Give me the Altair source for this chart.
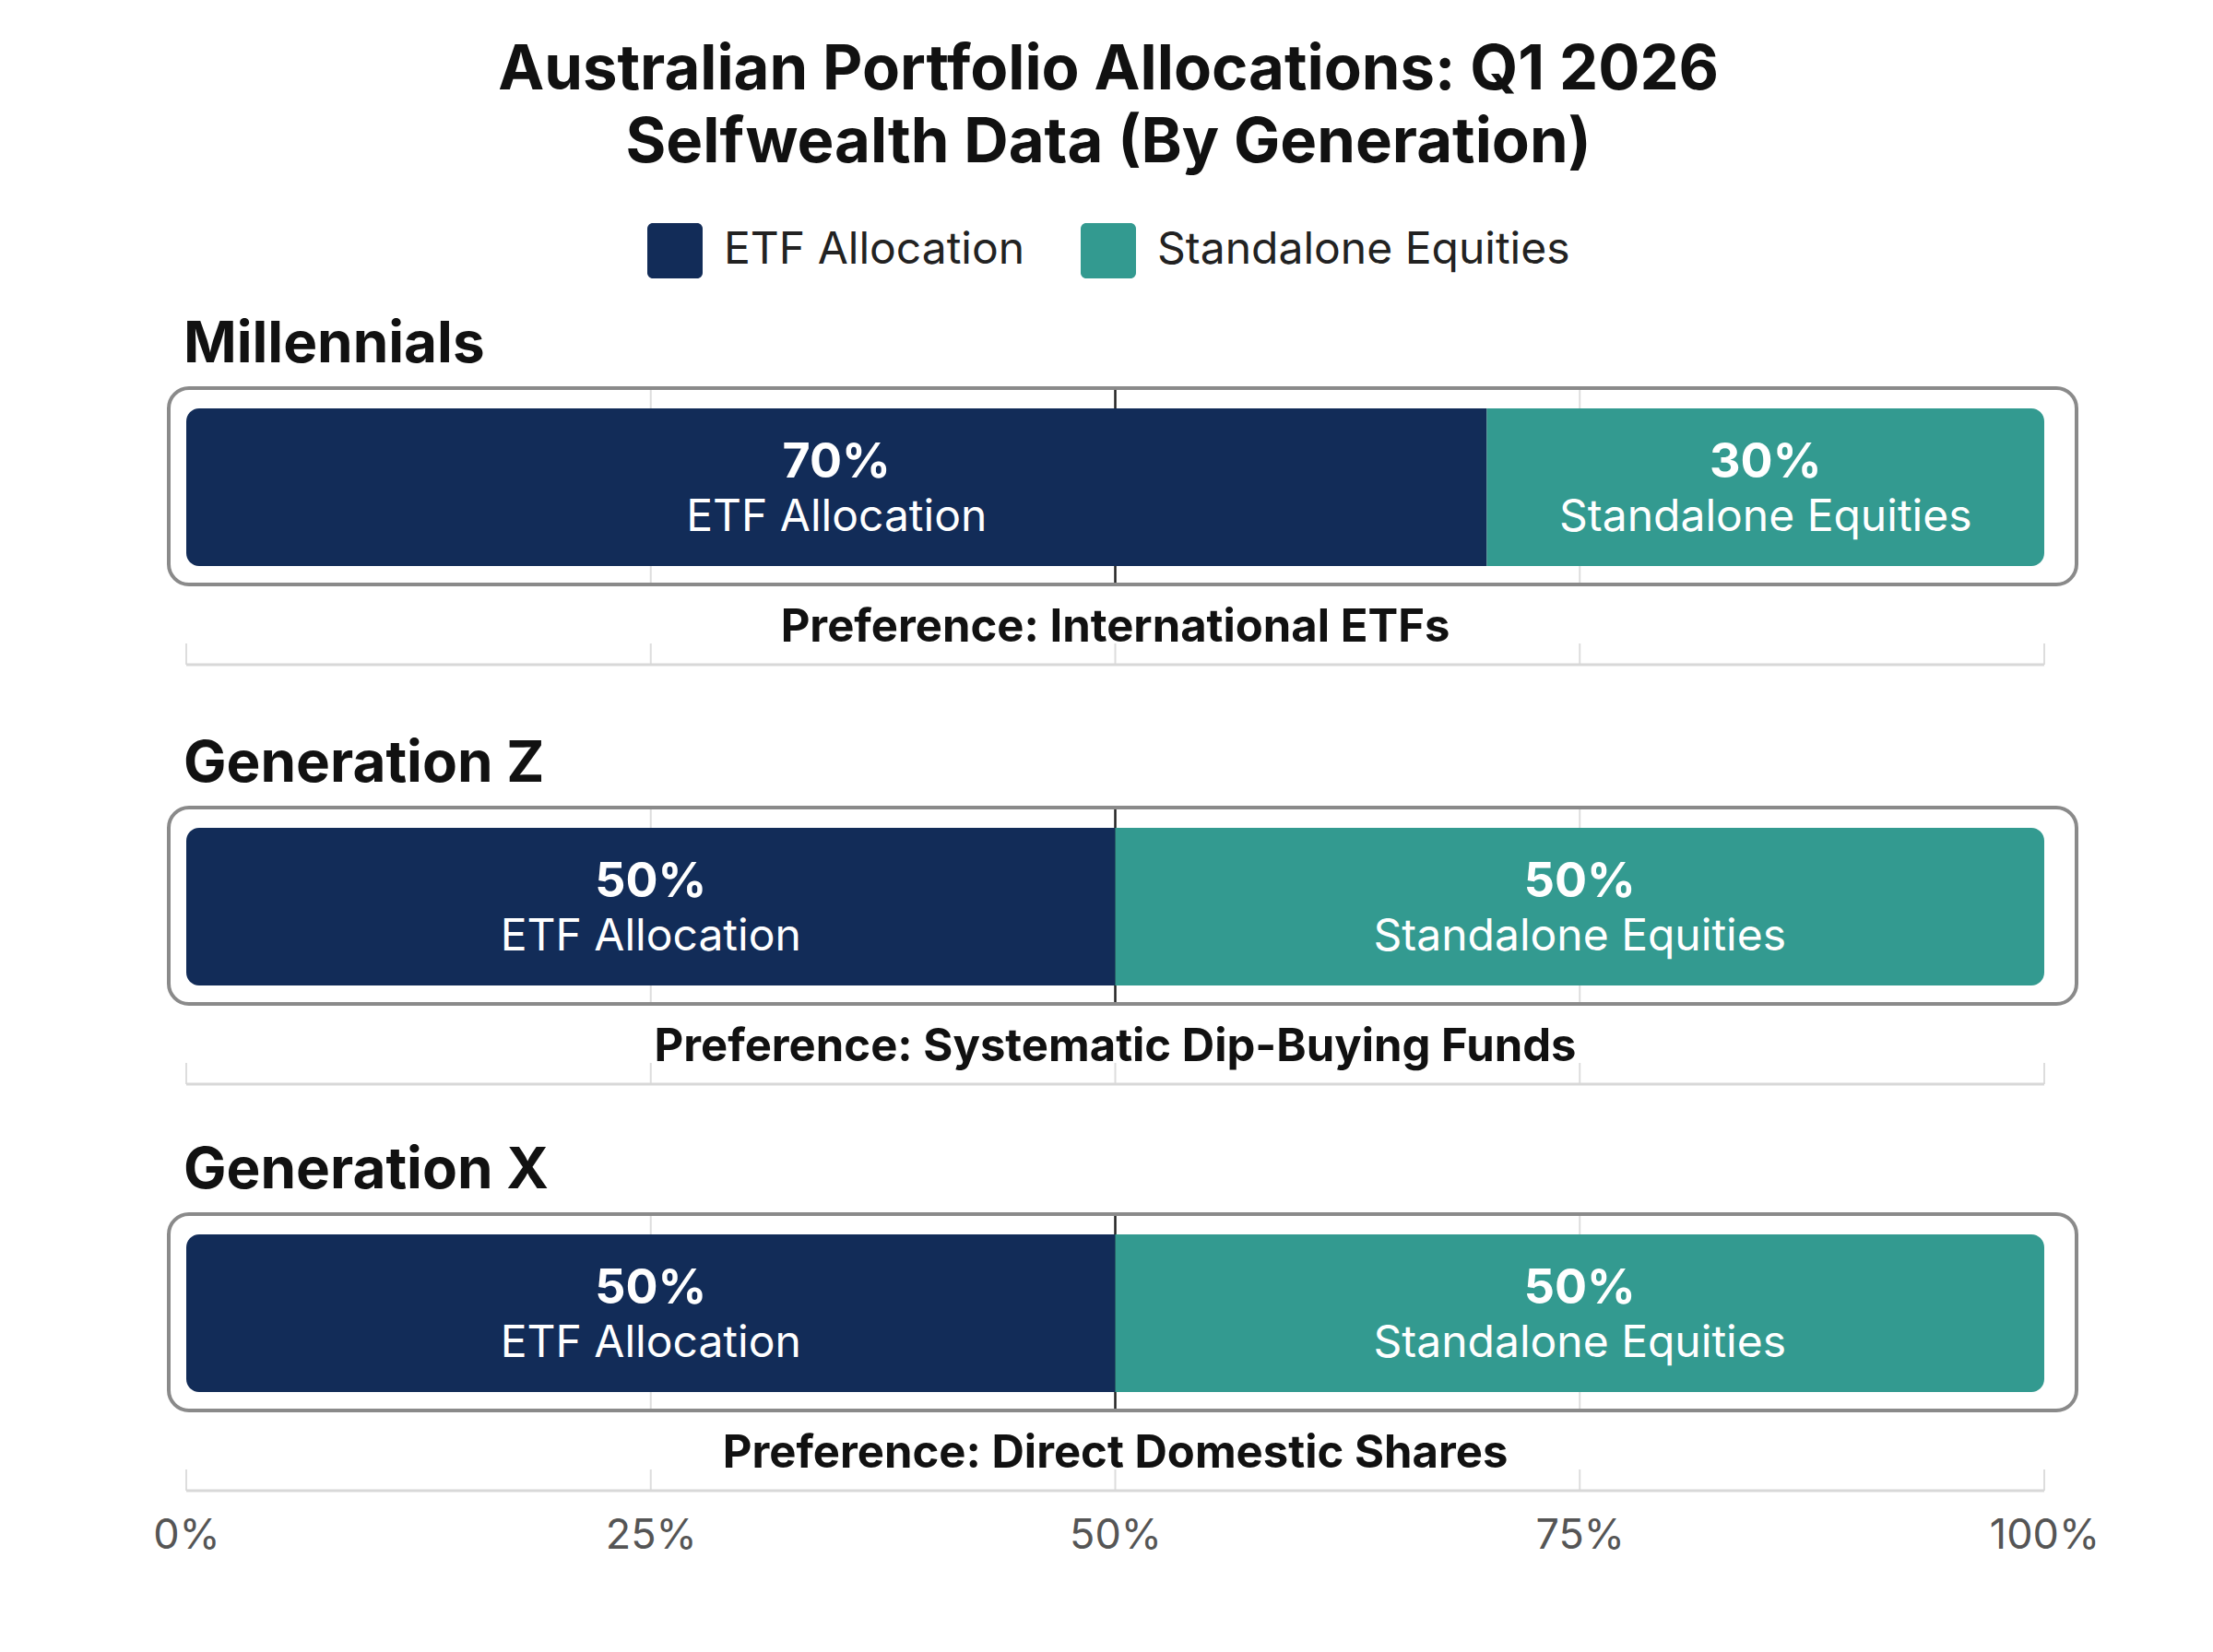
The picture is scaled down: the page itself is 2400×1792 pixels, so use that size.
import altair as alt
import pandas as pd

# ---- data -------------------------------------------------------------
GENERATIONS = ["Millennials", "Generation Z", "Generation X"]
SERIES = ["ETF Allocation", "Standalone Equities"]
ETF = [70, 50, 50]
EQUITIES = [30, 50, 50]
PREFERENCES = [
    "Preference: International ETFs",
    "Preference: Systematic Dip-Buying Funds",
    "Preference: Direct Domestic Shares",
]
TICKS = [0, 25, 50, 75, 100]
COLORS = ["#122c58", "#339a90"]

TITLE = ["Australian Portfolio Allocations: Q1 2026", "Selfwealth Data (By Generation)"]

# ---- layout constants (pixels) ----------------------------------------
W = 2015
BOX_X0, BOX_X1 = -19, 2050
BOX_Y1 = 213
BAR_Y0, BAR_Y1 = 22, 193
AXIS_Y = 300
FONT = "Inter"

rows = []
for i, g in enumerate(GENERATIONS):
    for j, s in enumerate(SERIES):
        rows.append({"generation": g, "series": s, "order": j,
                     "value": [ETF, EQUITIES][j][i]})
df = pd.DataFrame(rows)
tick_df = pd.DataFrame({"tick": TICKS})

SYMBOL = ("M-0.8,-1 L0.8,-1 A0.2,0.2 0 0 1 1,-0.8 L1,0.8 A0.2,0.2 0 0 1 0.8,1 "
          "L-0.8,1 A0.2,0.2 0 0 1 -1,0.8 L-1,-0.8 A0.2,0.2 0 0 1 -0.8,-1 Z")

legend = alt.Legend(
    orient="none", legendX=500, legendY=-179, direction="horizontal",
    title=None, symbolType=SYMBOL, symbolSize=3600, symbolStrokeWidth=0,
    symbolOpacity=1, labelFont=FONT, labelFontSize=48, labelColor="#222",
    labelOffset=23, columnPadding=60, labelLimit=1000, padding=0,
)
color = alt.Color("series:N", scale=alt.Scale(domain=SERIES, range=COLORS),
                  legend=legend)


def panel(i, last=False):
    g = GENERATIONS[i]
    xscale = alt.Scale(domain=[0, 100], nice=False, zero=True)
    if last:
        axis = alt.Axis(values=TICKS, labelExpr="datum.value + '%'",
                        labelFont=FONT, labelFontSize=45, labelColor="#555",
                        domain=False, ticks=False, grid=False, title=None,
                        labelPadding=26, labelFlush=False)
    else:
        axis = None

    def X(field):
        return alt.X(field, type="quantitative", scale=xscale, axis=axis)

    base = (alt.Chart(df)
            .transform_filter(alt.datum.generation == g)
            .transform_stack(stack="value", groupby=["generation"],
                             as_=["x0", "x1"],
                             sort=[alt.SortField("order", "ascending")])
            .transform_calculate(mid="(datum.x0 + datum.x1) / 2",
                                 pct="datum.value + '%'"))

    one = pd.DataFrame({"generation": [g], "pref": [PREFERENCES[i]]})

    box = alt.Chart(one).mark_rect(
        fill="white", stroke="#8a8a8a", strokeWidth=4, cornerRadius=22
    ).encode(x=alt.value(BOX_X0), x2=alt.value(BOX_X1),
             y=alt.value(0), y2=alt.value(BOX_Y1))

    grid = alt.Chart(tick_df).transform_filter(
        "datum.tick == 25 || datum.tick == 75"
    ).mark_rule(color="#dddddd", strokeWidth=2).encode(
        x=X("tick"), y=alt.value(2), y2=alt.value(BOX_Y1 - 2))

    mid_line = alt.Chart(tick_df).transform_filter("datum.tick == 50").mark_rule(
        color="#222222", strokeWidth=2.5).encode(
        x=X("tick"), y=alt.value(2), y2=alt.value(BOX_Y1 - 2))

    etf = base.transform_filter(alt.datum.order == 0).mark_rect(
        cornerRadiusTopLeft=14, cornerRadiusBottomLeft=14
    ).encode(x=X("x0"), x2="x1:Q", y=alt.value(BAR_Y0), y2=alt.value(BAR_Y1),
             color=color)

    eq = base.transform_filter(alt.datum.order == 1).mark_rect(
        cornerRadiusTopRight=14, cornerRadiusBottomRight=14
    ).encode(x=X("x0"), x2="x1:Q", y=alt.value(BAR_Y0), y2=alt.value(BAR_Y1),
             color=color)

    pct = base.mark_text(font=FONT, fontWeight="bold", fontSize=52,
                         color="white", baseline="alphabetic").encode(
        x=X("mid"), y=alt.value(97), text="pct:N")

    name = base.mark_text(font=FONT, fontSize=48, color="white",
                          baseline="alphabetic").encode(
        x=X("mid"), y=alt.value(155), text="series:N")

    pref = alt.Chart(one).mark_text(font=FONT, fontWeight="bold", fontSize=49,
                                    color="#111", baseline="alphabetic").encode(
        x=alt.value(W / 2), y=alt.value(275), text="pref:N")

    stubs = alt.Chart(tick_df).mark_rule(color="#dddddd", strokeWidth=2).encode(
        x=X("tick"), y=alt.value(277), y2=alt.value(AXIS_Y))

    axis_line = alt.Chart(one).mark_rule(color="#d8d8d8", strokeWidth=3).encode(
        x=alt.value(0), x2=alt.value(W), y=alt.value(AXIS_Y))

    label = alt.Chart(one).mark_text(font=FONT, fontWeight="bold", fontSize=62,
                                     color="#111", align="left",
                                     baseline="alphabetic").encode(
        x=alt.value(-3), y=alt.value(-28), text="generation:N")

    h = 316 if i == 0 else 300
    return alt.layer(box, grid, mid_line, etf, eq, pct, name, pref, stubs,
                     axis_line, label).properties(width=W, height=h)


chart = alt.vconcat(
    panel(0), panel(1), panel(2, last=True), spacing=61
).resolve_scale(color="shared").properties(
    title=alt.Title(TITLE, fontSize=67, font=FONT, fontWeight="bold",
                    color="#111", lineHeight=79, anchor="middle", offset=52,
                    dx=-19),
    padding={"left": 157, "top": 35, "right": 30, "bottom": 30},
    background="white",
).configure_view(strokeWidth=0)

chart.save("out.html", embed_options={"renderer": "svg", "actions": False})
